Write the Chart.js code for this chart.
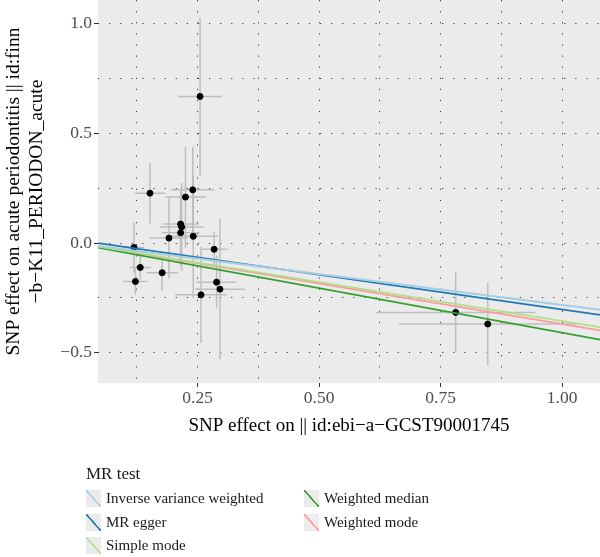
<!DOCTYPE html>
<html>
<head>
<meta charset="utf-8">
<script src="https://cdn.jsdelivr.net/npm/chart.js@4/dist/chart.umd.min.js"></script>
<style>
  body { margin: 0; background: #fff; }
  #wrap { position: relative; width: 600px; height: 557px; font-family: "Liberation Serif", "DejaVu Serif", serif; color: #1a1a1a; }
  #box { position: absolute; left: 0; top: 0; width: 600px; height: 440px; }
  #legend { position: absolute; left: 0; top: 0; width: 600px; height: 557px; }
  .lg-title { position: absolute; left: 86px; top: 464px; font-size: 17px; line-height: 20px; white-space: nowrap; }
  .lg-item { position: absolute; height: 18px; font-size: 15px; line-height: 18px; white-space: nowrap; }
  .lg-key { display: inline-block; width: 15px; height: 17px; vertical-align: middle; margin-right: 5px; position: relative; top: -1px; }
</style>
</head>
<body>
<div id="wrap">
  <div id="box"><canvas id="mrChart"></canvas></div>
  <div id="legend"></div>
</div>
<script>
// SNP estimates (exposure on x, outcome on y) and their standard errors
const snpX = [0.255, 0.152, 0.240, 0.225, 0.215, 0.217, 0.215, 0.191, 0.241, 0.119, 0.132, 0.177, 0.122, 0.284, 0.289, 0.296, 0.257, 0.781, 0.847];
const snpY = [0.669, 0.228, 0.243, 0.210, 0.087, 0.074, 0.047, 0.023, 0.031, -0.020, -0.111, -0.135, -0.175, -0.028, -0.178, -0.210, -0.236, -0.316, -0.369];
const seX  = [0.045, 0.031, 0.045, 0.042, 0.037, 0.045, 0.039, 0.039, 0.050, 0.022, 0.022, 0.032, 0.025, 0.028, 0.041, 0.051, 0.053, 0.164, 0.183];
const seY  = [0.360, 0.137, 0.197, 0.231, 0.150, 0.200, 0.150, 0.182, 0.280, 0.114, 0.055, 0.080, 0.060, 0.080, 0.120, 0.320, 0.220, 0.182, 0.188];

// MR methods: fitted line value at the left and right edge of the panel
const methods    = ['Inverse variance weighted', 'MR egger', 'Simple mode', 'Weighted median', 'Weighted mode'];
const lineColors = ['#a6cee3', '#1f78b4', '#b2df8a', '#33a02c', '#fb9a99'];
const lineX      = [0.045, 1.078];
const lineStartY = [-0.013, 0.000, -0.016, -0.020, -0.016];
const lineEndY   = [-0.304, -0.327, -0.383, -0.440, -0.398];

// axis ticks
const xMajor = [0.25, 0.50, 0.75, 1.00];
const xMinor = [0.125, 0.375, 0.625, 0.875];
const yMajor = [-0.5, 0.0, 0.5, 1.0];
const yMinor = [-0.25, 0.25, 0.75];
const xLabels = ['0.25', '0.50', '0.75', '1.00'];
const yLabels = ['\u22120.5', '0.0', '0.5', '1.0'];

const FONT = '"Liberation Serif", "DejaVu Serif", serif';

// grey panel + error bars
const panelBg = {
  id: 'panelBg',
  beforeDraw(chart) {
    const { ctx, chartArea: a } = chart;
    ctx.save();
    ctx.fillStyle = '#ebebeb';
    ctx.fillRect(a.left, a.top, a.right - a.left, a.bottom - a.top);
    ctx.restore();
  },
  beforeDatasetsDraw(chart) {
    const { ctx, scales: { x, y } } = chart;
    ctx.save();
    ctx.strokeStyle = '#bebebe';
    ctx.lineWidth = 1.5;
    for (let i = 0; i < snpX.length; i++) {
      const px = x.getPixelForValue(snpX[i]);
      const py = y.getPixelForValue(snpY[i]);
      ctx.beginPath();
      ctx.moveTo(px, y.getPixelForValue(snpY[i] - seY[i]));
      ctx.lineTo(px, y.getPixelForValue(snpY[i] + seY[i]));
      ctx.moveTo(x.getPixelForValue(snpX[i] - seX[i]), py);
      ctx.lineTo(x.getPixelForValue(snpX[i] + seX[i]), py);
      ctx.stroke();
    }
    ctx.restore();
  }
};

function tickSetup(major, minor) {
  return function (scale) {
    scale.ticks = major.concat(minor).sort((a, b) => a - b).map(v => ({ value: v }));
  };
}
function isMajor(list, v) {
  return list.some(m => Math.abs(m - v) < 1e-9);
}

const datasets = [];
methods.forEach((m, k) => {
  datasets.push({
    type: 'line',
    label: m,
    data: [{ x: lineX[0], y: lineStartY[k] }, { x: lineX[1], y: lineEndY[k] }],
    borderColor: lineColors[k],
    borderWidth: 1.8,
    pointRadius: 0,
    fill: false,
    order: 0
  });
});
datasets.push({
  type: 'scatter',
  label: 'SNPs',
  data: snpX.map((v, i) => ({ x: v, y: snpY[i] })),
  backgroundColor: '#000',
  borderColor: '#000',
  pointRadius: 3,
  order: 1
});

new Chart(document.getElementById('mrChart'), {
  type: 'scatter',
  data: { datasets: datasets },
  plugins: [panelBg],
  options: {
    responsive: true,
    maintainAspectRatio: false,
    animation: false,
    layout: { padding: 0, autoPadding: false },
    plugins: { legend: { display: false }, tooltip: { enabled: false } },
    scales: {
      x: {
        type: 'linear',
        min: 0.045,
        max: 1.078,
        afterBuildTicks: tickSetup(xMajor, xMinor),
        afterFit(scale) {
          scale.height = 57;
          scale.paddingLeft = 0;
          scale.paddingRight = 0;
        },
        grid: {
          color: '#3a3a3a',
          lineWidth: 1,
          tickLength: 4,
          tickColor: c => isMajor(xMajor, c.tick.value) ? '#333' : 'rgba(0,0,0,0)'
        },
        border: { display: false, dash: [1.2, 9.9] },
        ticks: {
          padding: 1,
          color: '#4d4d4d',
          font: { family: FONT, size: 17.5 },
          callback: v => isMajor(xMajor, v) ? xLabels[xMajor.findIndex(m => Math.abs(m - v) < 1e-9)] : ''
        },
        title: {
          display: true,
          text: 'SNP effect on || id:ebi\u2212a\u2212GCST90001745',
          color: '#000',
          font: { family: FONT, size: 19 },
          padding: { top: 0, bottom: 3 }
        }
      },
      y: {
        type: 'linear',
        min: -0.638,
        max: 1.109,
        afterBuildTicks: tickSetup(yMajor, yMinor),
        afterFit(scale) {
          scale.width = 98;
          scale.paddingTop = 0;
          scale.paddingBottom = 0;
        },
        grid: {
          color: '#3a3a3a',
          lineWidth: 1,
          tickLength: 4,
          tickColor: c => isMajor(yMajor, c.tick.value) ? '#333' : 'rgba(0,0,0,0)'
        },
        border: { display: false, dash: [1.2, 9.9] },
        ticks: {
          padding: 2,
          color: '#4d4d4d',
          font: { family: FONT, size: 17.5 },
          callback: v => isMajor(yMajor, v) ? yLabels[yMajor.findIndex(m => Math.abs(m - v) < 1e-9)] : ''
        },
        title: {
          display: true,
          text: ['SNP effect on acute periodontitis || id:finn', '\u2212b\u2212K11_PERIODON_acute'],
          color: '#000',
          font: { family: FONT, size: 19.5, lineHeight: 1.2 },
          padding: { top: 2, bottom: 0 }
        }
      }
    }
  }
});

// legend below the panel (two columns, filled top to bottom)
const legend = document.getElementById('legend');
const title = document.createElement('div');
title.className = 'lg-title';
title.textContent = 'MR test';
legend.appendChild(title);
const colX = [86, 304];
const rowY = [489, 512.5, 536];
methods.forEach((m, k) => {
  const col = Math.floor(k / 3), row = k % 3;
  const item = document.createElement('div');
  item.className = 'lg-item';
  item.style.left = colX[col] + 'px';
  item.style.top = rowY[row] + 'px';
  const key = document.createElement('span');
  key.className = 'lg-key';
  key.style.background = 'linear-gradient(to top right, #ebebeb calc(50% - 1px), ' + lineColors[k] + ' calc(50% - 0.6px), ' + lineColors[k] + ' calc(50% + 0.6px), #ebebeb calc(50% + 1px))';
  item.appendChild(key);
  item.appendChild(document.createTextNode(m));
  legend.appendChild(item);
});
</script>
</body>
</html>
